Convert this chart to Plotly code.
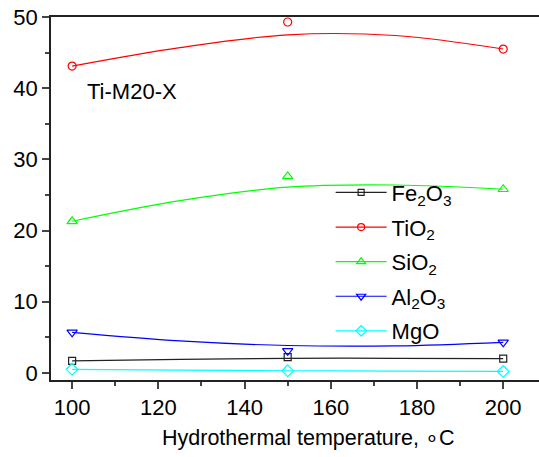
import plotly.graph_objects as go

temps = [100, 150, 200]
names = ["Fe<sub>2</sub>O<sub>3</sub>", "TiO<sub>2</sub>", "SiO<sub>2</sub>", "Al<sub>2</sub>O<sub>3</sub>", "MgO"]
# measured points
fe2o3 = [1.7, 2.2, 2.0]
tio2 = [43.1, 49.3, 45.5]
sio2 = [21.3, 27.6, 25.8]
al2o3 = [5.7, 3.1, 4.3]
mgo = [0.5, 0.3, 0.2]
# smoothed curve values
curve_x = [100, 125, 150, 175, 200]
fe2o3_curve = [1.7, 1.9, 2.05, 2.05, 2.0]
tio2_curve = [43.1, 45.7, 47.5, 47.4, 45.5]
sio2_curve = [21.3, 24.2, 26.1, 26.4, 25.8]
al2o3_curve = [5.7, 4.5, 3.85, 3.8, 4.3]
mgo_curve = [0.5, 0.4, 0.3, 0.25, 0.2]

series = [
    (names[0], fe2o3, fe2o3_curve, "#222222", "square-open", 7),
    (names[1], tio2, tio2_curve, "#ff0000", "circle-open", 8),
    (names[2], sio2, sio2_curve, "#00ff00", "triangle-up-open", 9),
    (names[3], al2o3, al2o3_curve, "#0000ff", "triangle-down-open", 9),
    (names[4], mgo, mgo_curve, "#00ffff", "diamond-open", 9),
]

fig = go.Figure()
for name, pts, crv, col, sym, ms in series:
    fig.add_trace(go.Scatter(x=curve_x, y=crv, mode="lines", line=dict(color=col, width=1.2, shape="spline", smoothing=1.0),
                             showlegend=False, hoverinfo="skip"))
    fig.add_trace(go.Scatter(x=temps, y=pts, mode="markers", marker=dict(symbol=sym, color=col, size=ms, line=dict(width=1.2, color=col)),
                             showlegend=False))
for i, (name, pts, crv, col, sym, ms) in enumerate(series):
    fig.add_trace(go.Scatter(x=[None], y=[None], mode="lines+markers", name=name, legendgroup="g%d" % i,
                             line=dict(color=col, width=1.2),
                             marker=dict(symbol=sym, color=col, size=ms - 1, line=dict(width=1.2, color=col))))

font = "Arial, Liberation Sans, sans-serif"
fig.update_layout(
    width=539, height=457,
    margin=dict(l=51, r=0, t=17, b=77),
    plot_bgcolor="white", paper_bgcolor="white",
    font=dict(family=font, size=22, color="black"),
    showlegend=True,
    legend=dict(x=0.573, y=0.574, xanchor="left", yanchor="top", bgcolor="rgba(0,0,0,0)",
                font=dict(size=22), tracegroupgap=3, itemwidth=51),
    xaxis=dict(range=[95.1, 208.3], tickvals=[100, 120, 140, 160, 180, 200], ticks="outside", ticklen=7, tickwidth=1.5,
               showline=True, linecolor="#222", linewidth=1.5, mirror=True, showgrid=False, zeroline=False,
               minor=dict(tickvals=[110, 130, 150, 170, 190], ticks="outside", ticklen=4, tickwidth=1.5)),
    yaxis=dict(range=[-1.0, 50], tickvals=[0, 10, 20, 30, 40, 50], ticks="outside", ticklen=7, tickwidth=1.5,
               showline=True, linecolor="#222", linewidth=1.5, showgrid=False, zeroline=False,
               minor=dict(tickvals=[5, 15, 25, 35, 45], ticks="outside", ticklen=4, tickwidth=1.5)),
    annotations=[
        dict(x=103.0, y=39.5, xref="x", yref="y", text="Ti-M20-X", showarrow=False, xanchor="left", yanchor="middle",
             font=dict(size=22)),
        dict(x=0.527, y=-0.16, xref="paper", yref="paper", text="Hydrothermal temperature, \u2218C", showarrow=False,
             xanchor="center", yanchor="middle", font=dict(size=21.5)),
    ],
)
fig.write_html("out.html")
